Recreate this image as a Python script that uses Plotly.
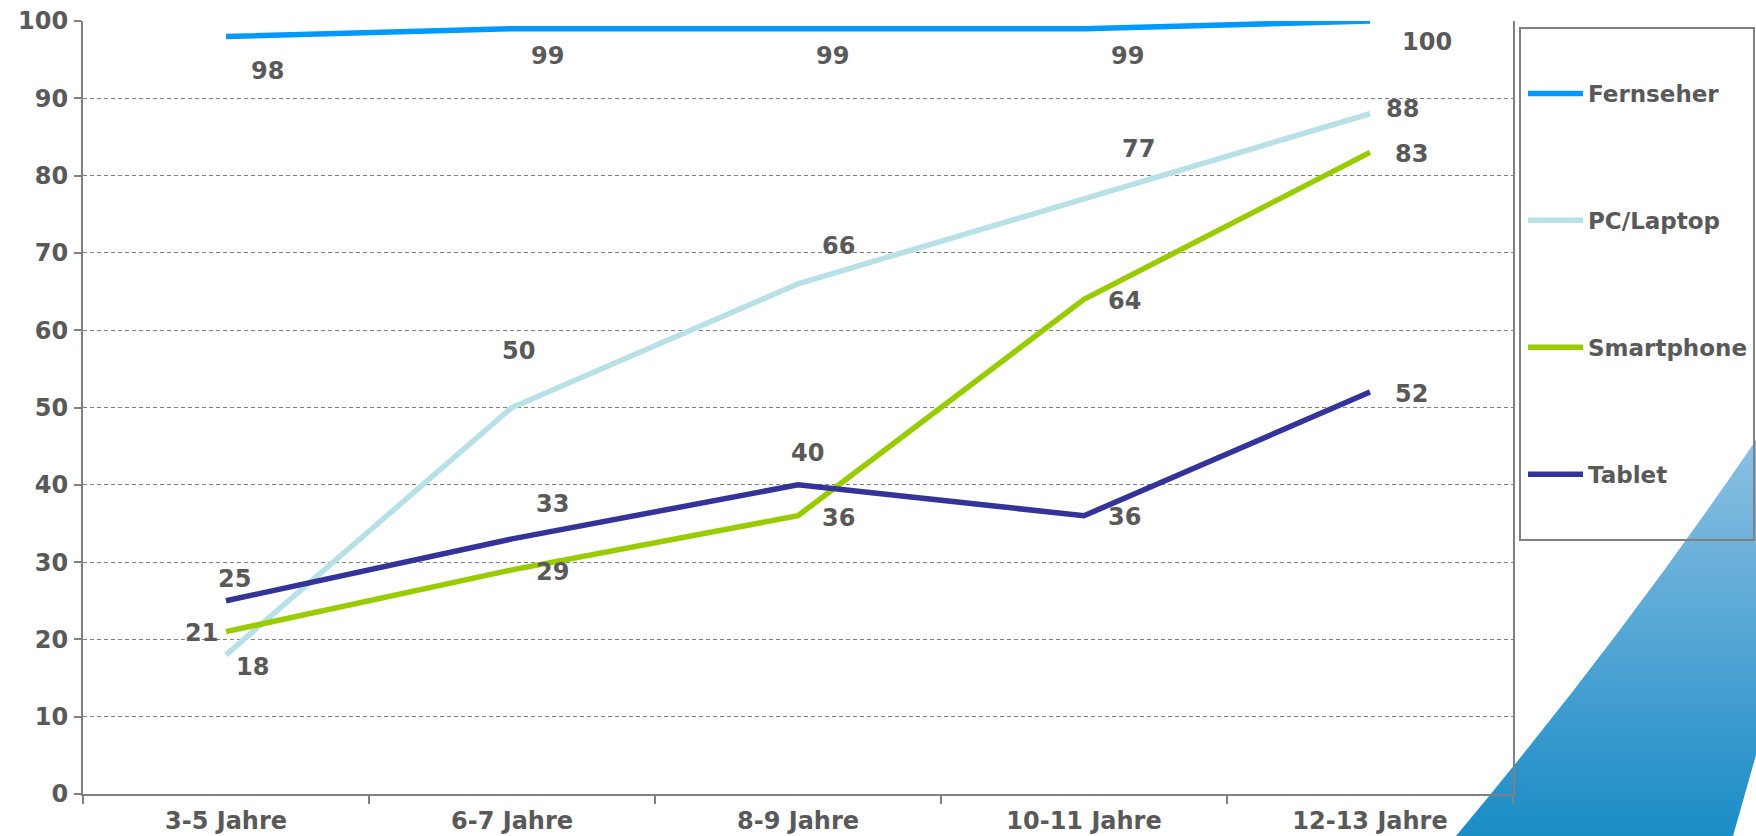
import base64
import plotly.graph_objects as go

# ---------------- data ----------------
categories = ["3-5 Jahre", "6-7 Jahre", "8-9 Jahre", "10-11 Jahre", "12-13 Jahre"]
series_names = ["Fernseher", "PC/Laptop", "Smartphone", "Tablet"]
fernseher = [98, 99, 99, 99, 100]
pc_laptop = [18, 50, 66, 77, 88]
smartphone = [21, 29, 36, 64, 83]
tablet = [25, 33, 40, 36, 52]
y_ticks = [0, 10, 20, 30, 40, 50, 60, 70, 80, 90, 100]

# ---------------- styles ----------------
series_values = [fernseher, pc_laptop, smartphone, tablet]
colors = ["#0099FF", "#B7E1E6", "#99CC00", "#333399"]
# data label offsets in px (dx to the right, dy downward)
label_offsets = [
    [(41, 35), (35, 27), (34, 27), (43, 27), (57, 21)],
    [(26, 12), (6, -57), (40, -38), (54, -50), (32, -5)],
    [(-25, 1), (40, 2), (40, 2), (40, 2), (41, 2)],
    [(8, -22), (40, -35), (9, -32), (40, 1), (41, 2)],
]
TEXT = "#595959"
GRID = "#808080"
FONT = "DejaVu Sans"
FS = 24

W, H = 1756, 836
L, R, T, B = 83, 1513, 21, 794


def px(x):
    return (x - L) / (R - L)


def py(y):
    return (B - y) / (B - T)


fig = go.Figure()
for name, vals, col in zip(series_names, series_values, colors):
    fig.add_trace(go.Scatter(
        x=categories, y=vals, mode="lines", name=name, legendgroup=name,
        line=dict(color=col, width=5.5), hoverinfo="x+y+name",
    ))

annotations = []
for vals, offs in zip(series_values, label_offsets):
    for cat, v, (dx, dy) in zip(categories, vals, offs):
        annotations.append(dict(
            x=cat, y=v, xref="x", yref="y", text=str(v), showarrow=False,
            xshift=dx, yshift=-dy,
            font=dict(family=FONT, size=FS, color=TEXT, weight="bold"),
        ))

# decorative swoosh in the lower right corner (background art)
swoosh_path = "M1456 836 Q1620 640 1756 440 L1756 755 L1733 836 Z"
svg = (
    f'<svg xmlns="http://www.w3.org/2000/svg" width="{W}" height="{H}" '
    f'viewBox="0 0 {W} {H}" preserveAspectRatio="none">'
    '<defs><linearGradient id="g" x1="0" y1="0" x2="0" y2="1">'
    '<stop offset="0" stop-color="#8cc0e2"/><stop offset="1" stop-color="#1a8cc6"/>'
    '</linearGradient></defs>'
    f'<path d="{swoosh_path}" fill="url(#g)"/>'
    '</svg>'
)
svg_uri = "data:image/svg+xml;base64," + base64.b64encode(svg.encode()).decode()

fig.update_layout(
    width=W, height=H,
    margin=dict(l=L, r=W - R, t=T, b=H - B, autoexpand=False),
    paper_bgcolor="white", plot_bgcolor="white",
    font=dict(family=FONT, size=FS, color=TEXT, weight="bold"),
    showlegend=True,
    legend=dict(
        x=px(1523), y=py(72), xanchor="left", yanchor="top",
        bgcolor="rgba(0,0,0,0)", borderwidth=0, itemwidth=55,
        font=dict(family=FONT, size=23, color=TEXT, weight="bold"),
        tracegroupgap=94, traceorder="grouped",
    ),
    xaxis=dict(
        type="category", range=[-0.5, 4.5], showgrid=False, zeroline=False,
        showline=True, linecolor=GRID, linewidth=2,
        ticks="outside", tickson="boundaries", ticklen=8, tickcolor=GRID, tickwidth=1.5,
        tickfont=dict(family=FONT, size=FS, color=TEXT, weight="bold"),
        ticklabelstandoff=4,
    ),
    yaxis=dict(
        range=[0, 100], tickvals=y_ticks, showgrid=True, gridcolor=GRID,
        griddash="4px,3px", gridwidth=1, zeroline=False,
        showline=True, linecolor=GRID, linewidth=2, mirror=True,
        ticks="outside", ticklen=7, tickcolor=GRID, tickwidth=1.5,
        tickfont=dict(family=FONT, size=FS, color=TEXT, weight="bold"),
        ticklabelstandoff=1,
    ),
    annotations=annotations,
    shapes=[dict(
        type="rect", xref="paper", yref="paper",
        x0=px(1520), x1=px(1754), y0=py(540), y1=py(28),
        line=dict(color=GRID, width=2), fillcolor="rgba(0,0,0,0)",
    )],
    images=[dict(
        source=svg_uri, xref="paper", yref="paper",
        x=px(0), y=py(0), sizex=W / (R - L), sizey=H / (B - T),
        xanchor="left", yanchor="top", sizing="stretch", layer="below",
    )],
)

fig.write_html(
    "out.html",
    config={"displayModeBar": False},
    post_script="document.body.style.margin='0';document.body.style.overflow='hidden';",
)
